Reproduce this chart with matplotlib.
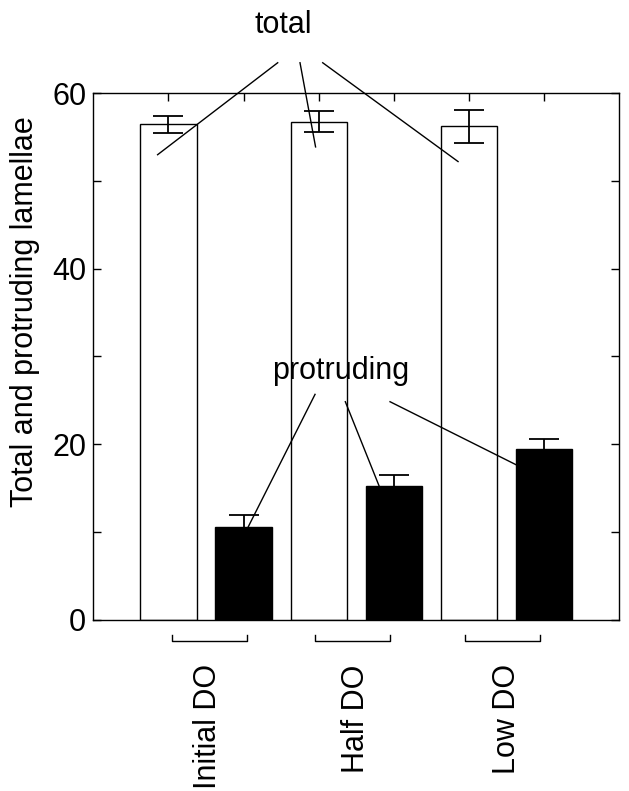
import matplotlib
matplotlib.use("Agg")
import matplotlib.pyplot as plt
from matplotlib.lines import Line2D

plt.rcParams['font.family'] = ['Liberation Sans', 'DejaVu Sans']

# ---- data ----
groups = ["Initial DO", "Half DO", "Low DO"]
total_mean = [56.45, 56.75, 56.2]
total_err = [0.95, 1.15, 1.9]
protruding_mean = [10.55, 15.25, 19.4]
protruding_err = [1.4, 1.2, 1.15]
y_ticks_major = [0, 20, 40, 60]
y_ticks_minor = [10, 30, 50]

# ---- layout ----
total_x = [1, 3, 5]
protr_x = [2, 4, 6]
label_x = [1.52, 3.5, 5.5]
bracket_spans = [(1.05, 2.05), (2.95, 3.95), (4.95, 5.95)]
FS = 22

fig = plt.figure(figsize=(6.29, 7.91), dpi=100)
ax = fig.add_axes([0.1483, 0.2168, 0.9846 - 0.1483, 0.8824 - 0.2168])

ax.bar(total_x, total_mean, width=0.75, color='white', edgecolor='black', linewidth=1.0, zorder=2)
ax.bar(protr_x, protruding_mean, width=0.75, color='black', edgecolor='black', linewidth=1.0, zorder=2)
ax.errorbar(total_x, total_mean, yerr=total_err, fmt='none', ecolor='black',
            elinewidth=1.3, capsize=10.6, capthick=1.3, zorder=3)
ax.errorbar(protr_x, protruding_mean, yerr=protruding_err, fmt='none', ecolor='black',
            elinewidth=1.3, capsize=10.6, capthick=1.3, zorder=3)

ax.set_xlim(0, 7)
ax.set_ylim(0, 60)

for s in ax.spines.values():
    s.set_linewidth(1.0)
    s.set_color('black')

ax.set_yticks(y_ticks_major)
ax.set_yticks(y_ticks_minor, minor=True)
ax.set_xticks([1, 3, 5])
ax.set_xticklabels([])
ax.tick_params(axis='y', which='both', direction='in', length=6, width=1.0,
               labelsize=FS, pad=5, right=False)
ax.tick_params(axis='x', which='both', direction='in', length=5.5, width=1.0, top=False)

# right ticks every 10
axr = ax.twinx()
axr.set_ylim(0, 60)
axr.set_yticks([0, 10, 20, 30, 40, 50, 60])
axr.set_yticklabels([])
axr.tick_params(axis='y', direction='in', length=6, width=1.0)
for s in axr.spines.values():
    s.set_visible(False)
# top ticks
axt = ax.twiny()
axt.set_xlim(0, 7)
axt.set_xticks([1, 2, 3, 4, 5, 6])
axt.set_xticklabels([])
axt.tick_params(axis='x', direction='in', length=5.5, width=1.0)
for s in axt.spines.values():
    s.set_visible(False)

ax.set_ylabel("Total and protruding lamellae", fontsize=FS)
ax.yaxis.set_label_coords(-0.101, 0.585)

# group brackets and labels
for (x0, x1), lx, g in zip(bracket_spans, label_x, groups):
    ax.add_line(Line2D([x0, x0, x1, x1], [-1.75, -2.5, -2.5, -1.75], color='black',
                       linewidth=1.0, clip_on=False))
    ax.text(lx, -5.1, g, rotation=90, ha='center', va='top', fontsize=FS)

# annotations
ax.text(2.53, 66.8, "total", ha='center', va='baseline', fontsize=FS)
total_lines = [((2.454, 63.45), (0.856, 52.97)),
               ((2.751, 63.45), (2.958, 53.86)),
               ((3.053, 63.45), (4.854, 52.19))]
for (xa, ya), (xb, yb) in total_lines:
    ax.add_line(Line2D([xa, xb], [ya, yb], color='black', linewidth=1.0, clip_on=False, zorder=5))

ax.text(3.29, 27.37, "protruding", ha='center', va='baseline', fontsize=FS)
protr_lines = [((2.951, 25.66), (2.063, 10.58)),
               ((3.354, 24.82), (3.802, 15.25)),
               ((3.949, 24.82), (5.635, 17.6))]
for (xa, ya), (xb, yb) in protr_lines:
    ax.add_line(Line2D([xa, xb], [ya, yb], color='black', linewidth=1.0, clip_on=False, zorder=5))

fig.savefig("out.png", dpi=100)
